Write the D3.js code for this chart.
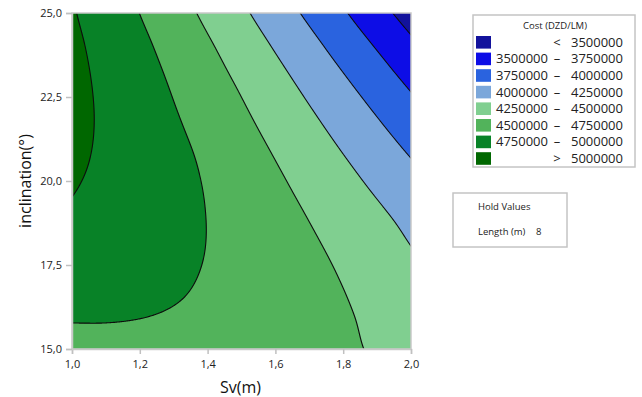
<!DOCTYPE html>
<html><head><meta charset="utf-8">
<script src="https://cdn.jsdelivr.net/npm/d3@7"></script>
<style>
body{margin:0;background:#fff;}
text{font-family:"Open Sans","Noto Sans",sans-serif;}
</style>
</head><body>
<svg id="chart" width="642" height="397"></svg>
<script>
// ---- data ----
const svValues = [1.0, 1.1, 1.2, 1.3, 1.4, 1.5, 1.6, 1.7, 1.8, 1.9, 2.0];          // columns (Sv, m)
const inclinationValues = [25, 24, 23, 22, 21, 20, 19, 18, 17, 16, 15];          // rows (inclination, °)
// Cost (DZD/LM) at each (inclination row, Sv column), Length held at 8 m
const costRow25 = [5018000, 4887000, 4748000, 4603000, 4450000, 4291000, 4125000, 3953000, 3774000, 3588000, 3396000];
const costRow24 = [5046000, 4927000, 4802000, 4669000, 4530000, 4384000, 4231000, 4072000, 3905000, 3733000, 3554000];
const costRow23 = [5059000, 4954000, 4842000, 4723000, 4597000, 4464000, 4325000, 4179000, 4026000, 3867000, 3701000];
const costRow22 = [5059000, 4968000, 4870000, 4764000, 4662000, 4532000, 4406000, 4274000, 4135000, 3989000, 3837000];
const costRow21 = [5046000, 4968000, 4884000, 4792000, 4708000, 4588000, 4476000, 4357000, 4232000, 4100000, 3962000];
const costRow20 = [5018000, 4955000, 4885000, 4807000, 4734000, 4631000, 4534000, 4429000, 4318000, 4200000, 4076000];
const costRow19 = [4977000, 4928000, 4872000, 4809000, 4746000, 4662000, 4579000, 4489000, 4392000, 4289000, 4179000];
const costRow18 = [4922000, 4888000, 4847000, 4798000, 4746000, 4680000, 4611000, 4534000, 4452000, 4363000, 4255000];
const costRow17 = [4854000, 4834000, 4808000, 4775000, 4734000, 4684000, 4627000, 4564000, 4494000, 4420000, 4341000];
const costRow16 = [4771000, 4767000, 4756000, 4738000, 4713000, 4674000, 4629000, 4577000, 4519000, 4460000, 4396000];
const costRow15 = [4675000, 4687000, 4691000, 4688000, 4679000, 4651000, 4616000, 4574000, 4526000, 4483000, 4434000];
const costGrid = [costRow25, costRow24, costRow23, costRow22, costRow21, costRow20, costRow19, costRow18, costRow17, costRow16, costRow15];

const levelBreaks = [3500000, 3750000, 4000000, 4250000, 4500000, 4750000, 5000000];
const bandColors = ["#12129c", "#0d0de6", "#2a63df", "#7ba7da", "#80cf90", "#52b35b", "#088227", "#006700"];
const legendLeft  = ["", "3500000", "3750000", "4000000", "4250000", "4500000", "4750000", ""];
const legendSep   = ["<", "–", "–", "–", "–", "–", "–", ">"];
const legendRight = ["3500000", "3750000", "4000000", "4250000", "4500000", "4750000", "5000000", "5000000"];
const legendTitle = "Cost (DZD/LM)";
const xTickValues = [1.0, 1.2, 1.4, 1.6, 1.8, 2.0];
const xTickLabels = ["1,0", "1,2", "1,4", "1,6", "1,8", "2,0"];
const yTickValues = [15, 17.5, 20, 22.5, 25];
const yTickLabels = ["15,0", "17,5", "20,0", "22,5", "25,0"];
const holdNames = ["Length (m)"];
const holdSettings = ["8"];

// ---- layout ----
const svg = d3.select("#chart");
const L = 72, R = 411, T = 13, B = 349;
const x = d3.scaleLinear().domain([1, 2]).range([L, R]);
const y = d3.scaleLinear().domain([15, 25]).range([B, T]);
const colIndex = d3.scaleLinear().domain([svValues[0], svValues[svValues.length-1]]).range([0, svValues.length-1]);
const rowIndex = d3.scaleLinear().domain([inclinationValues[0], inclinationValues[inclinationValues.length-1]]).range([0, inclinationValues.length-1]);

// smooth (bicubic) rendering of the value grid
const nR = costGrid.length, nC = costGrid[0].length;
function gv(r, c) {
  if (c < 0) return 2*gv(r, 0) - gv(r, 1);
  if (c > nC-1) return 2*gv(r, nC-1) - gv(r, nC-2);
  if (r < 0) return 2*gv(0, c) - gv(1, c);
  if (r > nR-1) return 2*gv(nR-1, c) - gv(nR-2, c);
  return costGrid[r][c];
}
function cr(p0, p1, p2, p3, t) {
  return p1 + 0.5*t*(p2 - p0 + t*(2*p0 - 5*p1 + 4*p2 - p3 + t*(3*(p1 - p2) + p3 - p0)));
}
function sample(ci, ri) {
  const c0 = Math.max(0, Math.min(nC-2, Math.floor(ci))), t = ci - c0;
  const r0 = Math.max(0, Math.min(nR-2, Math.floor(ri))), s = ri - r0;
  const rv = [-1, 0, 1, 2].map(k => cr(gv(r0+k, c0-1), gv(r0+k, c0), gv(r0+k, c0+1), gv(r0+k, c0+2), t));
  return cr(rv[0], rv[1], rv[2], rv[3], s);
}
const m = 3;
const x0 = L - m, y0 = T - m, W = (R - L) + 2*m, H = (B - T) + 2*m;
const field = new Float64Array(W*H);
for (let j = 0; j < H; j++) {
  const ri = rowIndex(y.invert(y0 + j + 0.5));
  for (let i = 0; i < W; i++) {
    const ci = colIndex(x.invert(x0 + i + 0.5));
    field[j*W + i] = sample(ci, ri);
  }
}
const thresholds = [0].concat(levelBreaks);
const contours = d3.contours().size([W, H]).thresholds(thresholds)(field);
const path = d3.geoPath(d3.geoIdentity().translate([x0, y0]));

svg.append("clipPath").attr("id", "plotClip")
  .append("rect").attr("x", L).attr("y", T).attr("width", R - L).attr("height", B - T);

const g = svg.append("g").attr("clip-path", "url(#plotClip)");
g.selectAll("path.band").data(contours).join("path")
  .attr("class", "band")
  .attr("d", path)
  .attr("fill", (d, i) => bandColors[i]);
g.selectAll("path.line").data(contours.slice(1)).join("path")
  .attr("class", "line")
  .attr("d", path)
  .attr("fill", "none")
  .attr("stroke", "#0d0d0d")
  .attr("stroke-width", 1.1);

// frame
svg.append("rect").attr("x", L).attr("y", T).attr("width", R - L).attr("height", B - T)
  .attr("fill", "none").attr("stroke", "#c9c9c9").attr("stroke-width", 1.5);

// axes
const xAxis = d3.axisBottom(x).tickValues(xTickValues).tickFormat((d, i) => xTickLabels[i]).tickSize(5).tickPadding(6);
const yAxis = d3.axisLeft(y).tickValues(yTickValues).tickFormat((d, i) => yTickLabels[i]).tickSize(6).tickPadding(4);
const gx = svg.append("g").attr("transform", `translate(0,${B})`).call(xAxis);
const gy = svg.append("g").attr("transform", `translate(${L},0)`).call(yAxis);
[gx, gy].forEach(a => {
  a.select(".domain").attr("stroke", "#c9c9c9").attr("stroke-width", 1.5);
  a.selectAll(".tick line").attr("stroke", "#c0c0c0").attr("stroke-width", 1.5);
  a.selectAll(".tick text").attr("fill", "#222").style("font-size", "11px").style("font-family", "'Open Sans','Noto Sans',sans-serif");
});

svg.append("text").attr("x", (L + R)/2 - 1).attr("y", 393)
  .attr("text-anchor", "middle").style("font-size", "16px").attr("fill", "#111").text("Sv(m)");
svg.append("text").attr("transform", "translate(31,181) rotate(-90)")
  .attr("text-anchor", "middle").style("font-size", "16px").attr("fill", "#111").text("inclination(°)");

// legend
const lg = svg.append("g");
lg.append("rect").attr("x", 473).attr("y", 15).attr("width", 162).attr("height", 152)
  .attr("fill", "#fff").attr("stroke", "#c4c4c4").attr("stroke-width", 1.5);
lg.append("text").attr("x", 555).attr("y", 28.5).attr("text-anchor", "middle")
  .style("font-size", "9.5px").attr("fill", "#222").text(legendTitle);
const rows = d3.range(bandColors.length).map(i => ({
  color: bandColors[i], left: legendLeft[i], sep: legendSep[i], right: legendRight[i]
}));
const rowG = lg.selectAll("g.row").data(rows).join("g").attr("class", "row")
  .attr("transform", (d, i) => `translate(0,${42.3 + i*16.6})`);
rowG.append("rect").attr("x", 476).attr("y", -6.3).attr("width", 15).attr("height", 12.6).attr("fill", d => d.color);
rowG.append("text").attr("x", 548).attr("y", 0).attr("dy", "0.35em").attr("text-anchor", "end")
  .style("font-size", "13px").attr("fill", "#222").text(d => d.left);
rowG.append("text").attr("x", 557).attr("y", 0).attr("dy", "0.35em").attr("text-anchor", "middle")
  .style("font-size", "13px").attr("fill", "#222").text(d => d.sep);
rowG.append("text").attr("x", 623).attr("y", 0).attr("dy", "0.35em").attr("text-anchor", "end")
  .style("font-size", "13px").attr("fill", "#222").text(d => d.right);

// hold values
const hg = svg.append("g");
hg.append("rect").attr("x", 453).attr("y", 193).attr("width", 114).attr("height", 54)
  .attr("fill", "#fff").attr("stroke", "#c4c4c4").attr("stroke-width", 1.5);
hg.append("text").attr("x", 478).attr("y", 207).attr("dy", "0.35em")
  .style("font-size", "9.5px").attr("fill", "#222").text("Hold Values");
holdNames.forEach((n, i) => {
  hg.append("text").attr("x", 478).attr("y", 232 + i*16).attr("dy", "0.35em")
    .style("font-size", "9.5px").attr("fill", "#222").text(n);
  hg.append("text").attr("x", 536).attr("y", 232 + i*16).attr("dy", "0.35em")
    .style("font-size", "9.5px").attr("fill", "#222").text(holdSettings[i]);
});
</script>
</body></html>
